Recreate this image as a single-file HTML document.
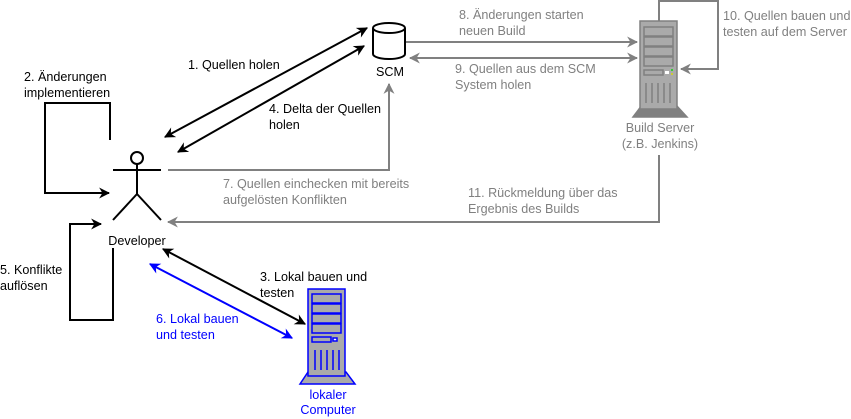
<!DOCTYPE html>
<html><head><meta charset="utf-8"><style>
html,body{margin:0;padding:0;background:#fff;width:851px;height:419px;overflow:hidden}
svg text{font-family:"Liberation Sans",sans-serif;font-size:12.6px}
</style></head><body>
<svg width="851" height="419" viewBox="0 0 851 419" xmlns="http://www.w3.org/2000/svg">
<defs>
<marker id="ab" viewBox="0 0 10 10" refX="9" refY="5" markerWidth="11" markerHeight="11" orient="auto-start-reverse" markerUnits="userSpaceOnUse"><path d="M0,0 L10,5 L0,10 L3,5 z" fill="#000"/></marker>
<marker id="ag" viewBox="0 0 10 10" refX="9" refY="5" markerWidth="11" markerHeight="11" orient="auto-start-reverse" markerUnits="userSpaceOnUse"><path d="M0,0 L10,5 L0,10 L3,5 z" fill="#808080"/></marker>
<marker id="au" viewBox="0 0 10 10" refX="9" refY="5" markerWidth="11" markerHeight="11" orient="auto-start-reverse" markerUnits="userSpaceOnUse"><path d="M0,0 L10,5 L0,10 L3,5 z" fill="#0000ff"/></marker>
</defs>
<!-- developer -->
<g stroke="#000" stroke-width="2" fill="none">
<circle cx="137" cy="158" r="6" fill="#fff"/>
<line x1="113" y1="170" x2="161" y2="170"/>
<line x1="137" y1="164" x2="137" y2="194"/>
<line x1="137" y1="194" x2="113" y2="220"/>
<line x1="137" y1="194" x2="161" y2="220"/>
</g>
<text x="137" y="245" text-anchor="middle">Developer</text>
<!-- SCM -->
<g stroke="#000" stroke-width="2" fill="#fff">
<path d="M373,28 L373,54 A16,5 0 0 0 405,54 L405,28"/>
<ellipse cx="389" cy="28" rx="16" ry="5"/>
</g>
<text x="390" y="76" text-anchor="middle">SCM</text>
<!-- black arrows -->
<g stroke="#000" stroke-width="2" fill="none">
<line x1="165" y1="137" x2="367" y2="28" marker-start="url(#ab)" marker-end="url(#ab)"/>
<line x1="178" y1="152" x2="364" y2="46" marker-start="url(#ab)" marker-end="url(#ab)"/>
<polyline points="110,140 110,103 45,103 45,193 109,193" marker-end="url(#ab)"/>
<polyline points="113,248 113,320 70,320 70,224 101,224" marker-end="url(#ab)"/>
<line x1="163" y1="249" x2="305" y2="324" marker-start="url(#ab)" marker-end="url(#ab)"/>
</g>
<line x1="150" y1="264" x2="292" y2="338" stroke="#0000ff" stroke-width="2" marker-start="url(#au)" marker-end="url(#au)"/>
<!-- gray arrows -->
<g stroke="#808080" stroke-width="2" fill="none">
<polyline points="168,170 389,170 389,84" marker-end="url(#ag)"/>
<line x1="406" y1="42" x2="637" y2="42" marker-end="url(#ag)"/>
<line x1="410" y1="58" x2="637" y2="58" marker-start="url(#ag)" marker-end="url(#ag)"/>
<polyline points="659,21 659,1 718,1 718,69 681,69" marker-end="url(#ag)"/>
<polyline points="659,155 659,222 168,222" marker-end="url(#ag)"/>
</g>
<!-- build server -->
<g stroke="#808080" stroke-width="1.5">
<path d="M633,117 L642,105 L676,105 L687,117 Z" fill="#808080"/>
<rect x="640" y="21" width="37" height="88" fill="#aaaaaa"/>
<rect x="644" y="27" width="29" height="9" fill="#aaaaaa"/>
<rect x="644" y="37" width="29" height="9" fill="#aaaaaa"/>
<rect x="644" y="47" width="29" height="9" fill="#aaaaaa"/>
<rect x="644" y="57" width="29" height="9" fill="#aaaaaa"/>
<rect x="644" y="70" width="19" height="5" fill="#aaaaaa"/>
<line x1="646" y1="83" x2="646" y2="103"/><line x1="652" y1="83" x2="652" y2="103"/><line x1="658" y1="83" x2="658" y2="103"/><line x1="664" y1="83" x2="664" y2="103"/><line x1="670" y1="83" x2="670" y2="103"/>
</g>
<rect x="665" y="71" width="4" height="3" fill="#fff"/>
<rect x="671" y="69" width="2" height="2" fill="#3c3"/><rect x="671" y="73" width="2" height="2" fill="#cc3"/>
<!-- local computer -->
<g stroke="#0000ff" stroke-width="1.5">
<path d="M300,384 L308,372 L346,372 L355,384 Z" fill="#aaaaaa"/>
<rect x="308" y="289" width="37" height="87" fill="#aaaaaa"/>
<rect x="312" y="294" width="29" height="9" fill="#aaaaaa"/>
<rect x="312" y="304" width="29" height="9" fill="#aaaaaa"/>
<rect x="312" y="314" width="29" height="9" fill="#aaaaaa"/>
<rect x="312" y="324" width="29" height="9" fill="#aaaaaa"/>
<rect x="312" y="337" width="19" height="5" fill="#aaaaaa"/>
<rect x="333" y="338" width="4" height="3" fill="#fff"/>
<line x1="315" y1="350" x2="315" y2="370"/><line x1="321" y1="350" x2="321" y2="370"/><line x1="327" y1="350" x2="327" y2="370"/><line x1="333" y1="350" x2="333" y2="370"/><line x1="339" y1="350" x2="339" y2="370"/>
</g>
<text x="328" y="399" text-anchor="middle" fill="#0000ff">lokaler</text>
<text x="328" y="414" text-anchor="middle" fill="#0000ff">Computer</text>
<!-- labels -->
<text x="188" y="69">1. Quellen holen</text>
<text x="24" y="81">2. Änderungen</text>
<text x="24" y="97">implementieren</text>
<text x="269" y="113">4. Delta der Quellen</text>
<text x="269" y="129">holen</text>
<text x="0" y="274">5. Konflikte</text>
<text x="0" y="290">auflösen</text>
<text x="260" y="281">3. Lokal bauen und</text>
<text x="260" y="297">testen</text>
<text x="156" y="323" fill="#0000ff">6. Lokal bauen</text>
<text x="156" y="339" fill="#0000ff">und testen</text>
<g fill="#808080">
<text x="223" y="188">7. Quellen einchecken mit bereits</text>
<text x="223" y="204">aufgelösten Konflikten</text>
<text x="459" y="19">8. Änderungen starten</text>
<text x="459" y="35">neuen Build</text>
<text x="455" y="73">9. Quellen aus dem SCM</text>
<text x="455" y="89">System holen</text>
<text x="723" y="20">10. Quellen bauen und</text>
<text x="723" y="36">testen auf dem Server</text>
<text x="660" y="132" text-anchor="middle">Build Server</text>
<text x="660" y="148" text-anchor="middle">(z.B. Jenkins)</text>
<text x="468" y="197">11. Rückmeldung über das</text>
<text x="468" y="213">Ergebnis des Builds</text>
</g>
</svg>
</body></html>
